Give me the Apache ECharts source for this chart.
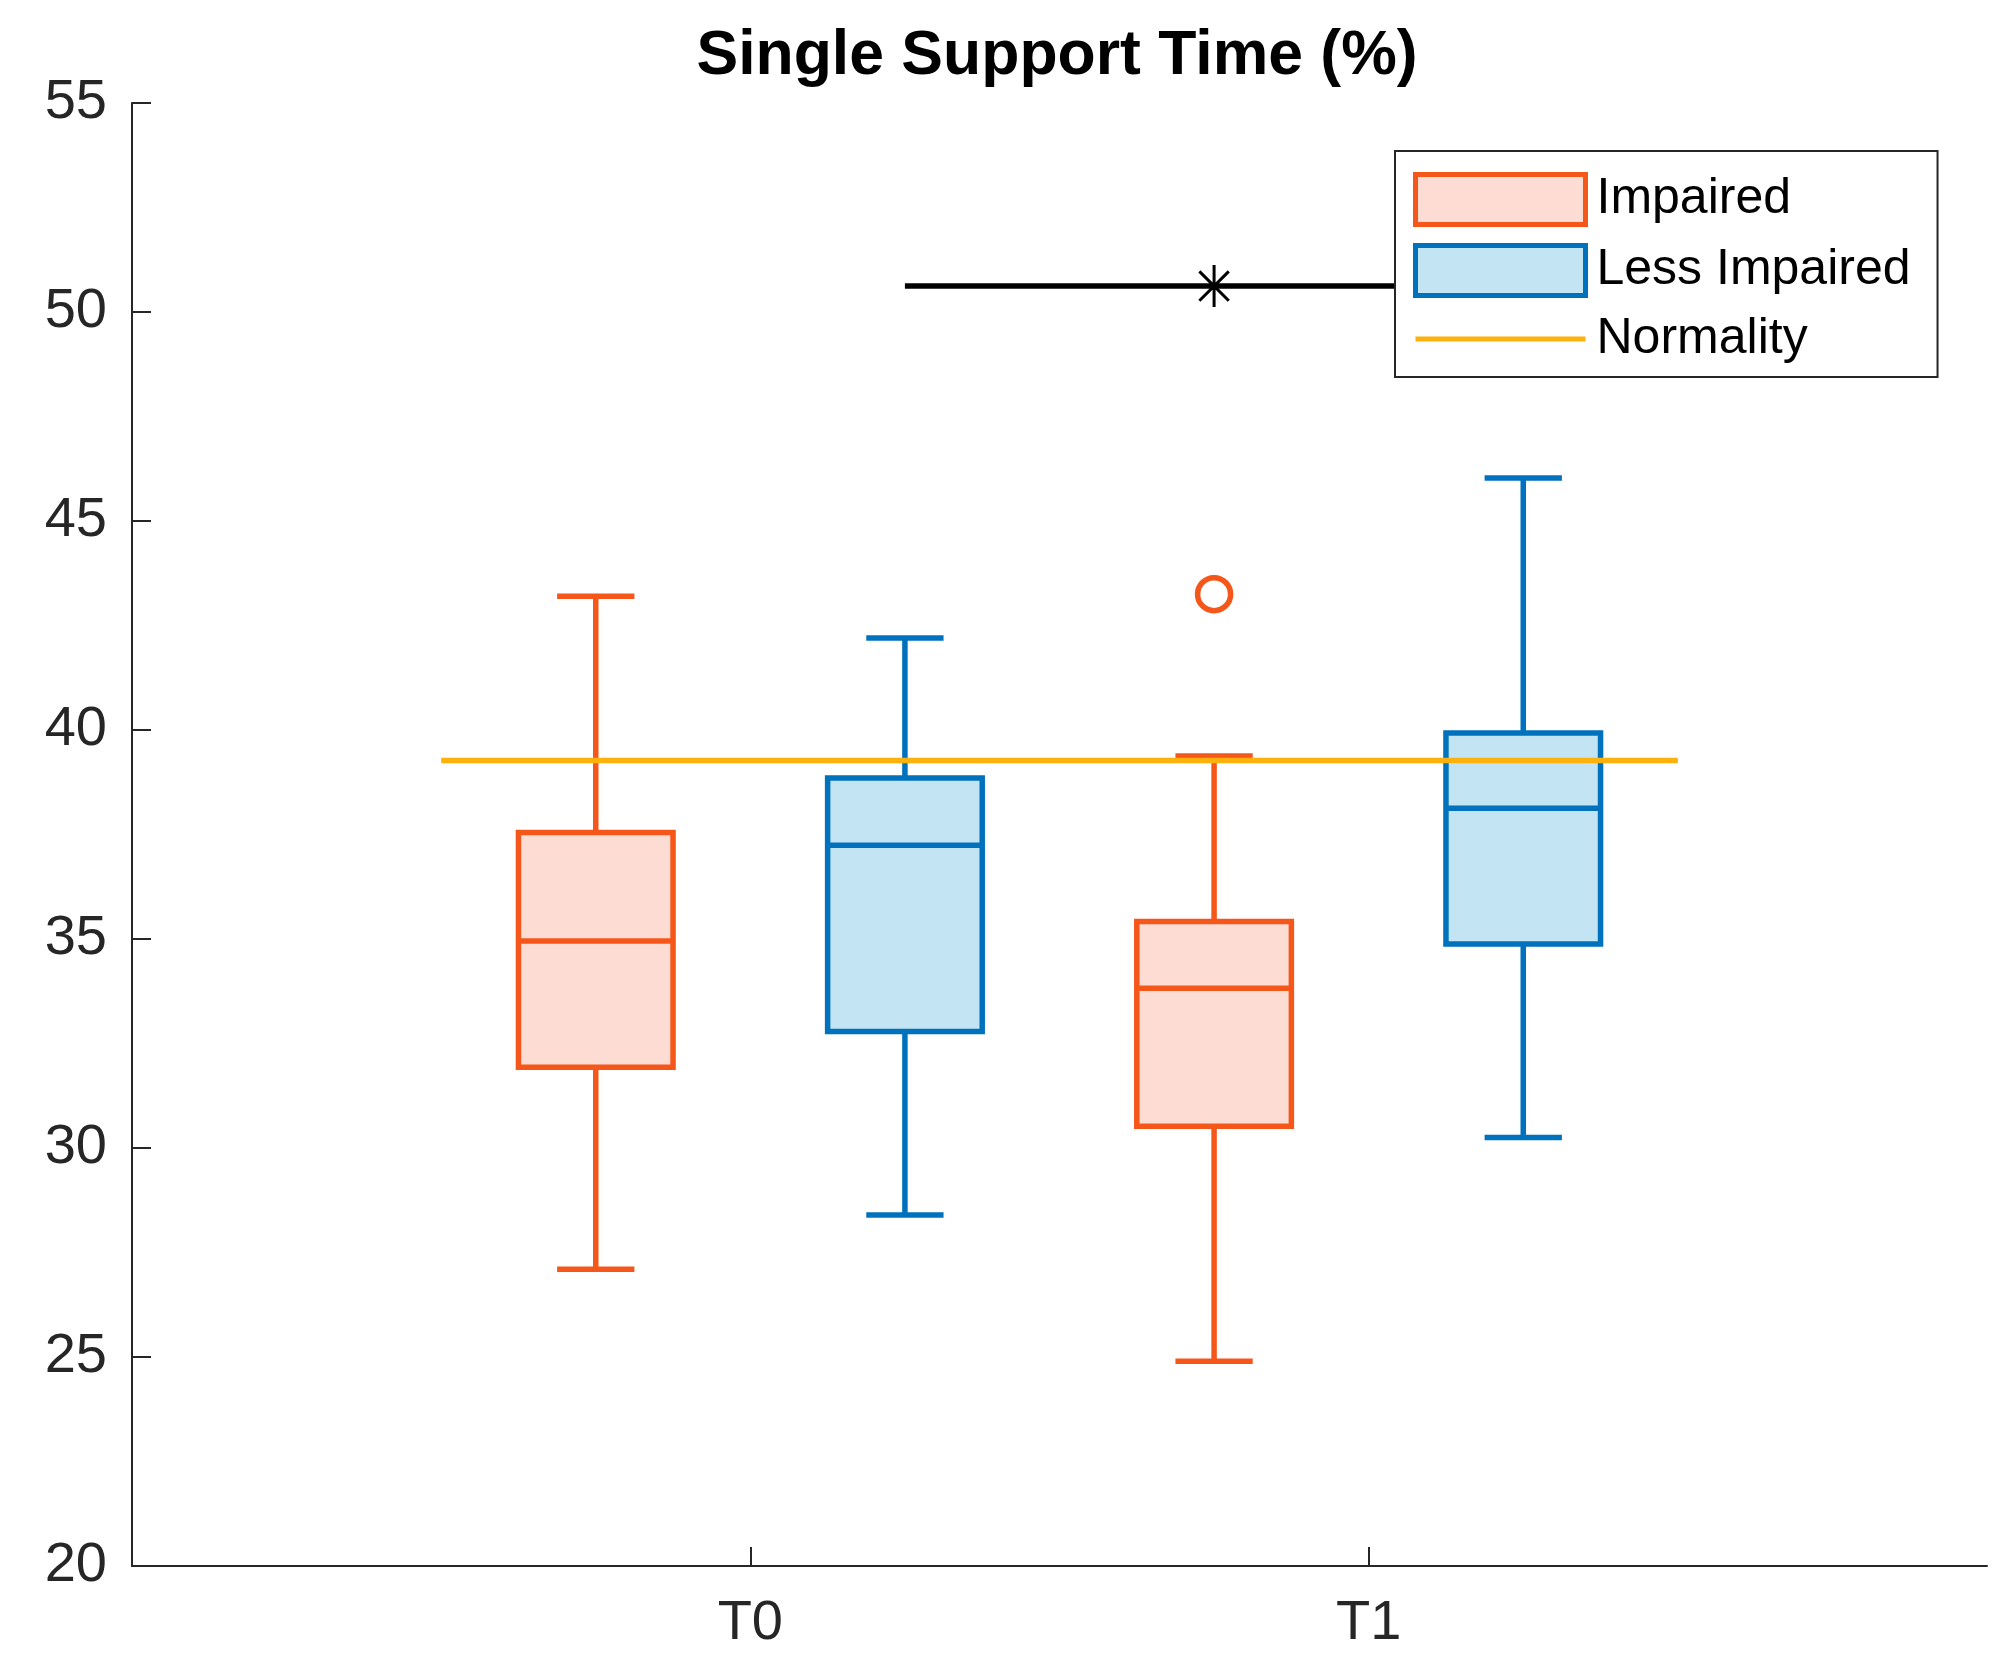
<!DOCTYPE html>
<html>
<head>
<meta charset="utf-8">
<script src="https://cdn.jsdelivr.net/npm/echarts@6/dist/echarts.min.js"></script>
<style>
  html, body { margin: 0; padding: 0; background: #fff; }
  #chart { width: 2015px; height: 1673px; }
</style>
</head>
<body>
<div id="chart"></div>
<script>
// groups on the x axis (T0 at x = 1, T1 at x = 2)
var categories = ['T0', 'T1'];
// [low whisker, Q1, median, Q3, high whisker] per time point
var impaired = [
  [27.1, 31.93, 34.95, 37.55, 43.2],
  [24.9, 30.52, 33.82, 35.42, 39.38]
];
var lessImpaired = [
  [28.4, 32.79, 37.24, 38.85, 42.2],
  [30.25, 34.88, 38.13, 39.93, 46.03]
];
// [time point index, value]
var impairedOutliers = [[1, 43.25]];
var normalityValue = 39.27;
var normalityRange = [0.5, 2.5];
// significance bar: [from x, to x, y]
var significance = [1.25, 2.25, 50.62];

var ORANGE = '#F5561A', ORANGE_FILL = '#FDDDD3';
var BLUE = '#0072BD', BLUE_FILL = '#C3E4F2';
var YELLOW = '#FDB10D';
var AXIS = '#262626';
var FONT = '"Liberation Sans", Arial, Helvetica, sans-serif';
var BOX_WIDTH = 0.25;
var OFFSET = 0.25;
var LW = 5.5;

function boxData(rows, shift) {
  return rows.map(function (r, i) { return [i + 1 + shift].concat(r); });
}

function boxRenderer(stroke, fill) {
  return function (params, api) {
    var x = api.value(0);
    var low = api.coord([x, api.value(1)]);
    var q1 = api.coord([x, api.value(2)]);
    var med = api.coord([x, api.value(3)]);
    var q3 = api.coord([x, api.value(4)]);
    var high = api.coord([x, api.value(5)]);
    var w = api.size([BOX_WIDTH, 0])[0];
    var cx = low[0];
    var ls = { stroke: stroke, lineWidth: LW, fill: null };
    function line(x1, y1, x2, y2) {
      return { type: 'line', shape: { x1: x1, y1: y1, x2: x2, y2: y2 }, style: ls };
    }
    return {
      type: 'group',
      children: [
        line(cx, low[1], cx, q1[1]),
        line(cx, q3[1], cx, high[1]),
        line(cx - w / 4, low[1], cx + w / 4, low[1]),
        line(cx - w / 4, high[1], cx + w / 4, high[1]),
        {
          type: 'rect',
          shape: { x: cx - w / 2, y: q3[1], width: w, height: q1[1] - q3[1] },
          style: { fill: fill, stroke: stroke, lineWidth: LW }
        },
        line(cx - w / 2, med[1], cx + w / 2, med[1])
      ]
    };
  };
}

var chart = echarts.init(document.getElementById('chart'), null, { renderer: 'canvas' });

var option = {
  backgroundColor: '#fff',
  animation: false,
  title: {
    text: 'Single Support Time (%)',
    left: 1052,
    textAlign: 'center',
    top: 20,
    textStyle: { fontFamily: FONT, fontSize: 62.5, fontWeight: 'bold', color: '#000' }
  },
  grid: { left: 132, right: 28, top: 103, bottom: 107 },
  legend: {
    orient: 'vertical',
    left: 1395,
    top: 151,
    padding: [21, 27, 13, 18],
    itemWidth: 170,
    itemHeight: 50,
    itemGap: 16,
    backgroundColor: '#fff',
    borderColor: AXIS,
    borderWidth: 2,
    textStyle: { fontFamily: FONT, fontSize: 50, color: '#000', padding: [0, 0, 0, 6] },
    data: [
      { name: 'Impaired', icon: 'rect', itemStyle: { color: ORANGE_FILL, borderColor: ORANGE, borderWidth: 5 } },
      { name: 'Less Impaired', icon: 'rect', itemStyle: { color: BLUE_FILL, borderColor: BLUE, borderWidth: 5 } },
      { name: 'Normality', icon: 'path://M0,0H100V3H0Z', itemStyle: { color: YELLOW, borderWidth: 0 } }
    ]
  },
  xAxis: {
    type: 'value',
    min: 0,
    max: 3,
    interval: 1,
    splitLine: { show: false },
    axisLine: { show: true, onZero: false, lineStyle: { color: AXIS, width: 2 } },
    axisTick: { show: true, inside: true, length: 19, customValues: [1, 2], lineStyle: { color: AXIS, width: 2 } },
    axisLabel: {
      customValues: [1, 2],
      margin: 30,
      fontFamily: FONT,
      fontSize: 56,
      color: AXIS,
      formatter: function (v) { return categories[Math.round(v) - 1] || ''; }
    }
  },
  yAxis: {
    type: 'value',
    min: 20,
    max: 55,
    interval: 5,
    splitLine: { show: false },
    axisLine: { show: true, onZero: false, lineStyle: { color: AXIS, width: 2 } },
    axisTick: { show: true, inside: true, length: 19, lineStyle: { color: AXIS, width: 2 } },
    axisLabel: { margin: 25, fontFamily: FONT, fontSize: 56, color: AXIS }
  },
  series: [
    {
      name: 'Impaired',
      type: 'custom',
      renderItem: boxRenderer(ORANGE, ORANGE_FILL),
      itemStyle: { color: ORANGE_FILL, borderColor: ORANGE },
      encode: { x: 0, y: [1, 2, 3, 4, 5] },
      data: boxData(impaired, -OFFSET),
      z: 2
    },
    {
      name: 'Less Impaired',
      type: 'custom',
      renderItem: boxRenderer(BLUE, BLUE_FILL),
      itemStyle: { color: BLUE_FILL, borderColor: BLUE },
      encode: { x: 0, y: [1, 2, 3, 4, 5] },
      data: boxData(lessImpaired, OFFSET),
      z: 2
    },
    {
      name: 'Impaired outliers',
      type: 'scatter',
      symbol: 'circle',
      symbolSize: 33,
      itemStyle: { color: 'rgba(0,0,0,0)', borderColor: ORANGE, borderWidth: 5.5, opacity: 1 },
      data: impairedOutliers.map(function (d) { return [d[0] + 1 - OFFSET, d[1]]; }),
      z: 3
    },
    {
      name: 'Normality',
      type: 'line',
      showSymbol: false,
      symbol: 'none',
      lineStyle: { color: YELLOW, width: 5.5 },
      itemStyle: { color: YELLOW },
      data: normalityRange.map(function (x) { return [x, normalityValue]; }),
      z: 4
    },
    {
      name: 'Significance',
      type: 'line',
      symbol: 'none',
      lineStyle: { color: '#000', width: 5.5 },
      data: [[significance[0], significance[2]], [significance[1], significance[2]]],
      z: 3
    },
    {
      name: 'Significance star',
      type: 'scatter',
      symbol: 'path://M0,-10L0,10M-7,-7L7,7M-7,7L7,-7M-10,0L10,0',
      symbolSize: 42,
      itemStyle: { color: 'rgba(0,0,0,0)', borderColor: '#000', borderWidth: 3, opacity: 1 },
      data: [[(significance[0] + significance[1]) / 2, significance[2]]],
      z: 3
    }
  ]
};

chart.setOption(option);
</script>
</body>
</html>
